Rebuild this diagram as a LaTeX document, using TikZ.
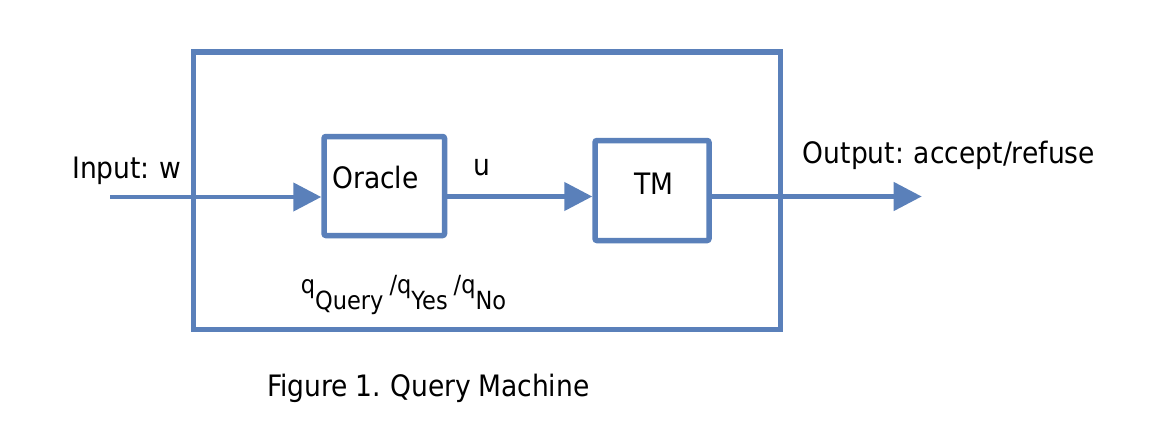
\documentclass[tikz,border=0pt]{standalone}
\usepackage{fontspec}
\setmainfont{DejaVu Sans}[FakeStretch=0.9]
\usetikzlibrary{arrows.meta,shadows}
\definecolor{qblue}{HTML}{5A80BA}
\newcommand\mytightsp{\spaceskip=0.24em\relax}
\tikzset{
  shad/.style={drop shadow={opacity=0.15, shadow xshift=1.5pt, shadow yshift=-2.5pt}},
  box/.style={draw=qblue, line width=5.5pt, fill=white, rounded corners=2pt, inner sep=0pt, shad},
  conn/.style={draw=qblue, line width=4.5pt, -{Triangle[length=28pt,width=28pt]}},
  lbl/.style={inner sep=0pt, anchor=base west, font=\fontsize{29.5}{34}\selectfont, execute at begin node=\mytightsp},
}
\begin{document}
\begin{tikzpicture}[x=1pt,y=-1pt]
\useasboundingbox (0,0) rectangle (1160,444);
\node[draw=qblue, line width=5.5pt, inner sep=0pt, minimum width=587pt, minimum height=277.5pt] (outer) at (487,190.75) {};
\node[box, minimum width=120.5pt, minimum height=99pt] (oracle) at (384.25,186) {};
\node[box, minimum width=114pt, minimum height=100pt] (tm) at (652,190.5) {};
\coordinate (in) at (110,197);
\coordinate (out) at (921.7,196.5);
\draw[conn] (in) -- (in -| oracle.west);
\draw[conn] (oracle.east |- out) -- (out -| tm.west);
\draw[conn] (tm.east |- out) -- (out);
\node[lbl] (inlbl) at (72,178) {Input: w};
\node[lbl] (oraclelbl) at (332,188) {Oracle};
\node[lbl] (ulbl) at (473,175) {u};
\node[lbl] (tmlbl) at (634,194) {TM};
\node[lbl] (outlbl) at (802.7,163) {Output: accept/refuse};
\node[lbl, font=\fontsize{25}{30}\selectfont] (qlbl) at (300.7,293) {q\raisebox{-16pt}{Query} /q\raisebox{-16pt}{Yes} /q\raisebox{-16pt}{No}};
\node[lbl] (caption) at (267,396) {Figure 1. Query Machine};
\end{tikzpicture}
\end{document}
